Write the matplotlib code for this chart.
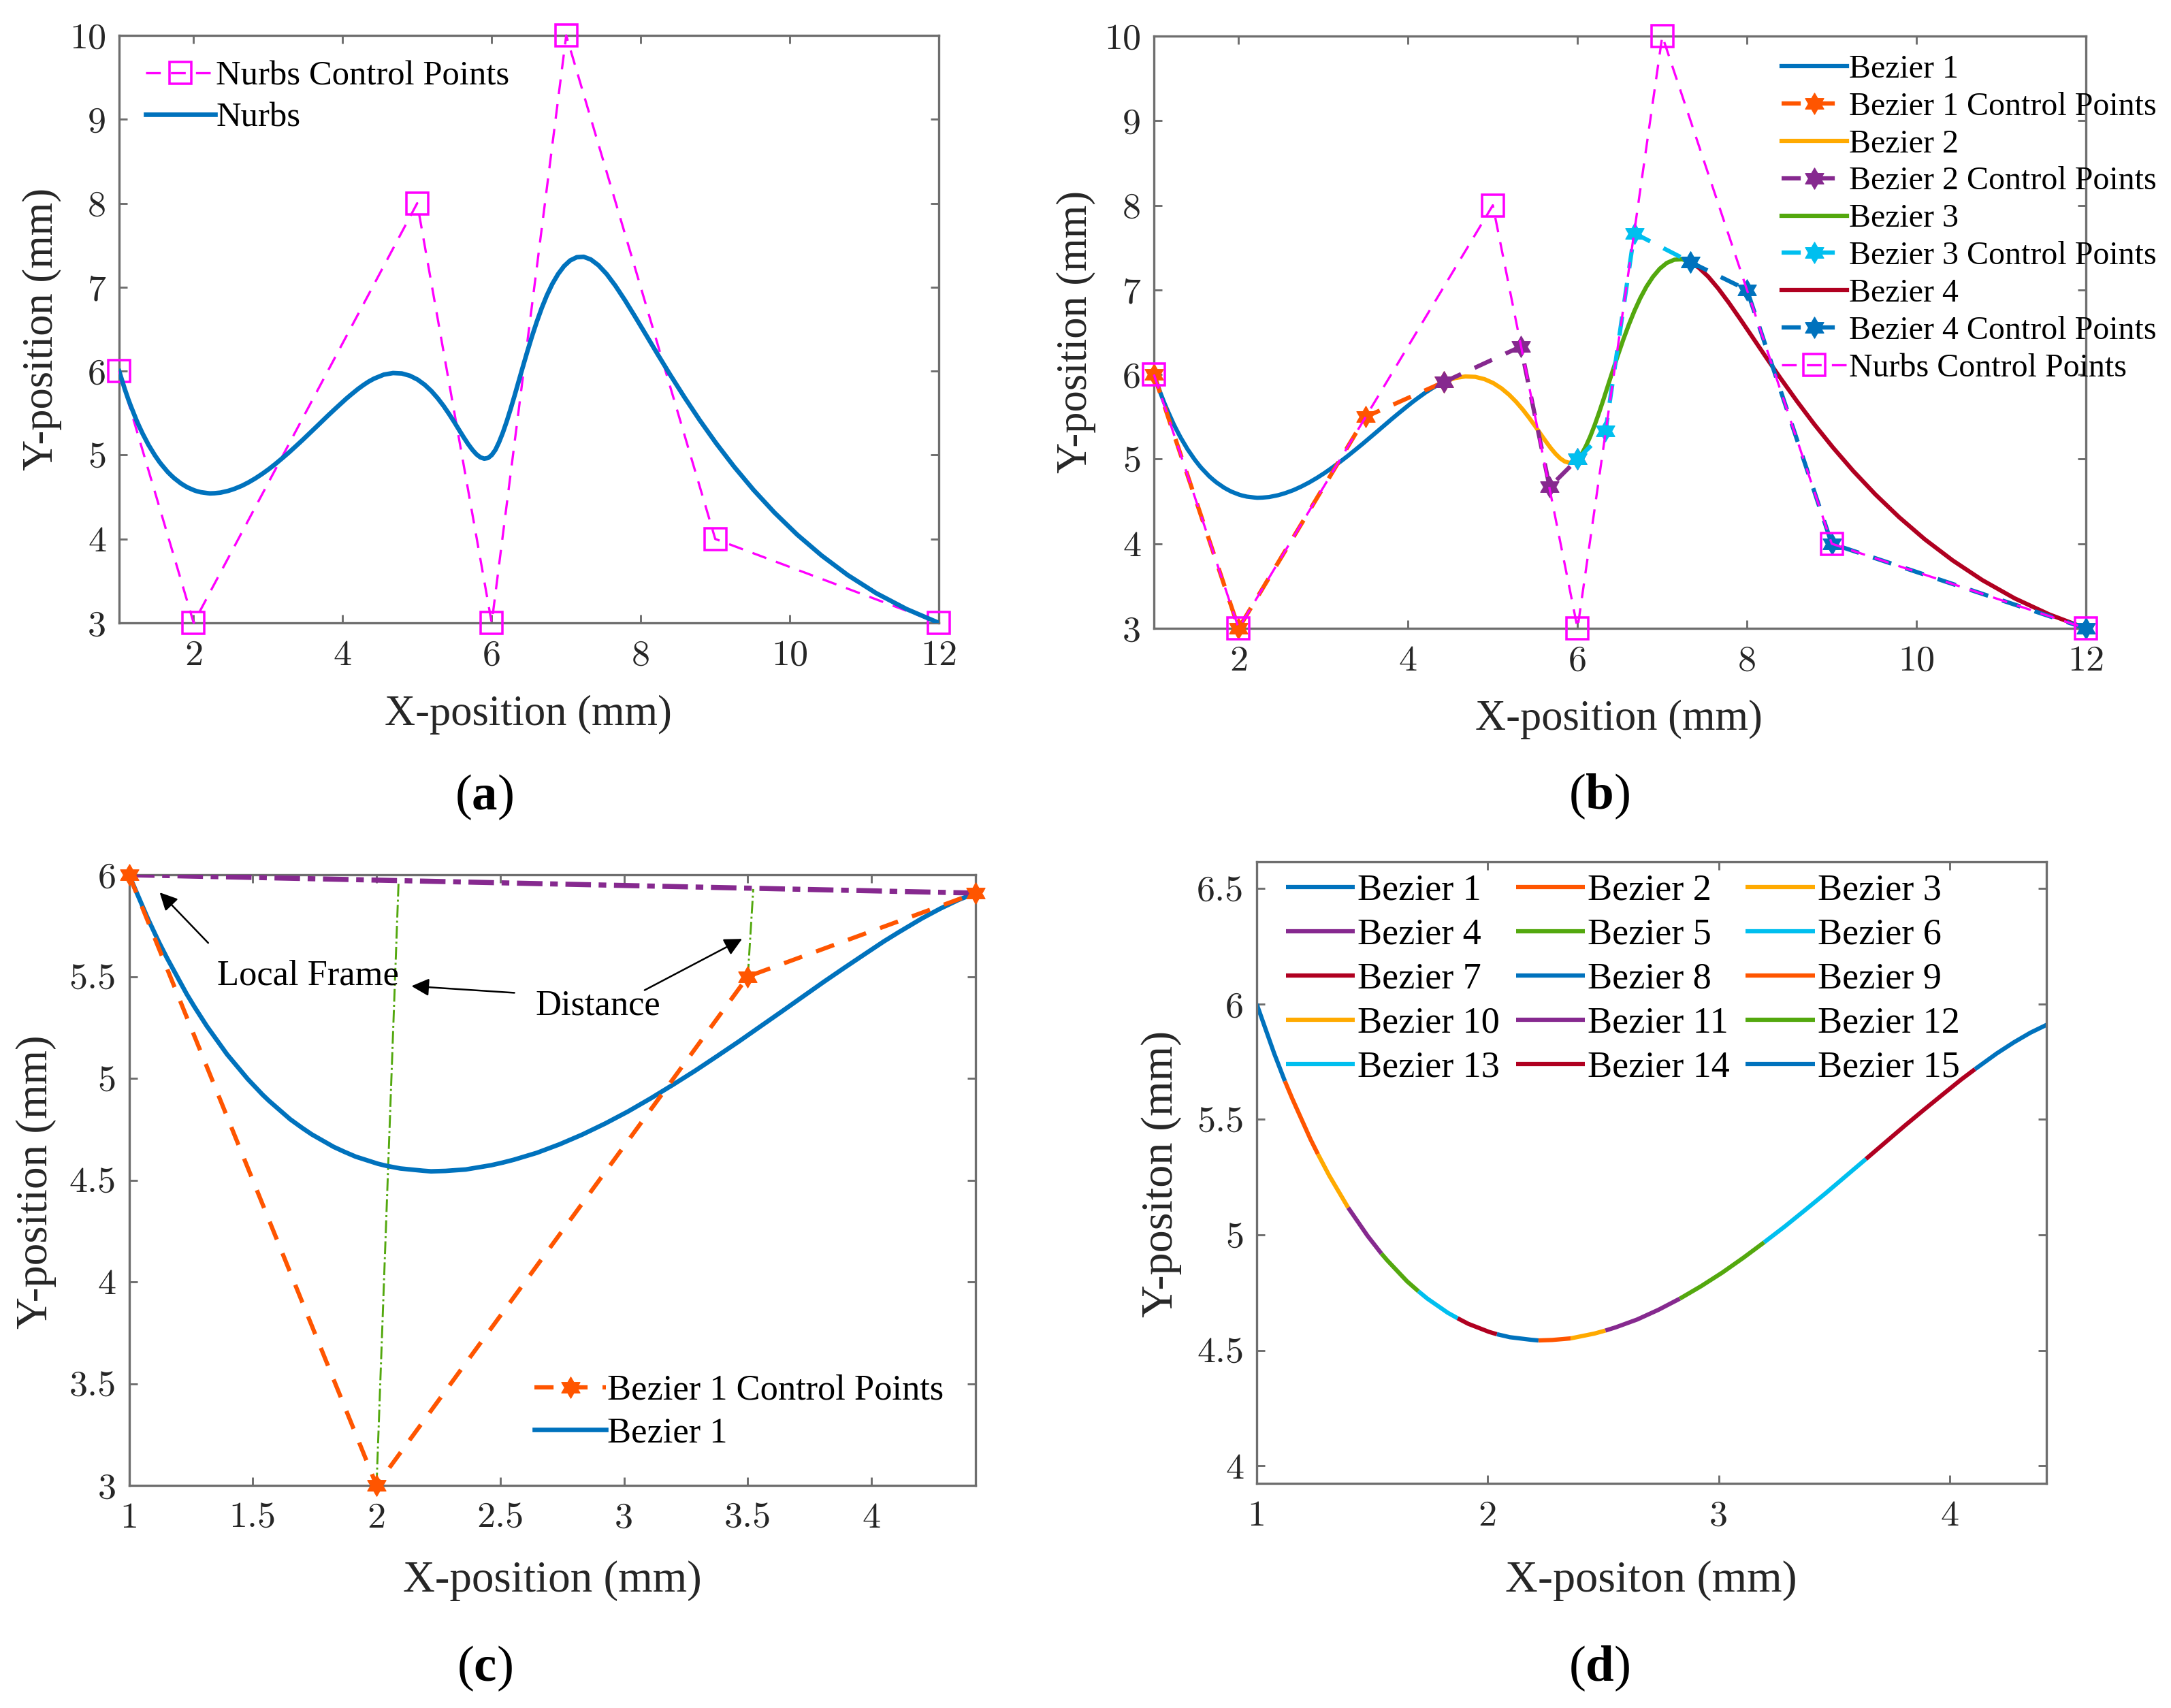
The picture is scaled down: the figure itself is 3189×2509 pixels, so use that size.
import matplotlib
matplotlib.use("Agg")
import matplotlib.pyplot as plt
import numpy as np
from matplotlib.path import Path
from matplotlib.ticker import FormatStrFormatter

W, H = 3189, 2509

# curve values
bez1_x = [1, 1.076, 1.122, 1.154, 1.233, 1.265, 1.314, 1.396, 1.480, 1.54, 1.565, 1.651, 1.70, 1.739, 1.827,
          1.87, 1.916, 2.006, 2.04, 2.096, 2.187, 2.22, 2.279, 2.36, 2.463, 2.51, 2.555, 2.648, 2.74, 2.832,
          2.924, 3.016, 3.107, 3.197, 3.287, 3.376, 3.465, 3.552, 3.638, 3.723, 3.807, 3.890, 3.971, 4.050,
          4.11, 4.204, 4.278, 4.350, 4.42]
bez1_y = [6, 5.785, 5.666, 5.590, 5.414, 5.350, 5.257, 5.118, 4.996, 4.919, 4.890, 4.799, 4.756, 4.724, 4.663,
          4.639, 4.615, 4.580, 4.570, 4.557, 4.546, 4.543, 4.545, 4.552, 4.573, 4.586, 4.600, 4.634, 4.676, 4.724,
          4.778, 4.837, 4.901, 4.968, 5.037, 5.109, 5.182, 5.256, 5.329, 5.402, 5.474, 5.543, 5.609, 5.673,
          5.718, 5.786, 5.834, 5.876, 5.91]
bez2_x = [4.42, 4.552, 4.676, 4.793, 4.902, 5.005, 5.101, 5.191, 5.275, 5.354, 5.428, 5.498, 5.563, 5.625,
          5.684, 5.741, 5.796, 5.849, 5.900, 5.951, 6]
bez2_y = [5.91, 5.958, 5.977, 5.972, 5.945, 5.899, 5.837, 5.762, 5.677, 5.585, 5.489, 5.392, 5.298, 5.210,
          5.130, 5.062, 5.008, 4.972, 4.957, 4.965, 5]
bez3_x = [6, 6.050, 6.099, 6.150, 6.202, 6.255, 6.309, 6.364, 6.421, 6.480, 6.541, 6.605, 6.671, 6.740,
          6.813, 6.890, 6.970, 7.052, 7.142, 7.234, 7.33]
bez3_y = [5, 5.062, 5.154, 5.268, 5.402, 5.552, 5.714, 5.885, 6.061, 6.239, 6.416, 6.588, 6.751, 6.902,
          7.038, 7.155, 7.250, 7.318, 7.357, 7.362, 7.33]
bez4_x = [7.33, 7.433, 7.543, 7.660, 7.785, 7.920, 8.067, 8.226, 8.399, 8.587, 8.791, 9.013, 9.253, 9.513,
          9.795, 10.099, 10.427, 10.779, 11.158, 11.566, 12]
bez4_y = [7.33, 7.261, 7.156, 7.017, 6.849, 6.655, 6.438, 6.202, 5.951, 5.688, 5.416, 5.139, 4.861, 4.585,
          4.314, 4.052, 3.803, 3.569, 3.355, 3.165, 3]

# control polygons
nurbs_cx = [1, 2, 5, 6, 7, 9, 12]
nurbs_cy = [6, 3, 8, 3, 10, 4, 3]
ctrl1_x = [1, 2, 3.5, 4.42]
ctrl1_y = [6, 3, 5.5, 5.91]
ctrl2_x = [4.42, 5.33, 5.67, 6]
ctrl2_y = [5.91, 6.33, 4.67, 5]
ctrl3_x = [6, 6.33, 6.67, 7.33]
ctrl3_y = [5, 5.33, 7.67, 7.33]
ctrl4_x = [7.33, 8, 9, 12]
ctrl4_y = [7.33, 7, 4, 3]

# panel c construction lines
frame_x = [1, 4.42]
frame_y = [6, 5.91]
dist1_x = [2, 2.089]
dist1_y = [3, 5.964]
dist2_x = [3.5, 3.522]
dist2_y = [5.5, 5.93]

# panel d: x where each of the 15 pieces ends
piece_ends = [1, 1.122, 1.265, 1.396, 1.54, 1.70, 1.87, 2.04, 2.22, 2.36, 2.51, 2.832, 3.197, 3.638, 4.11, 4.42]

BLUE = "#0072BD"
ORANGE = "#FF5500"
YELLOW = "#FFAA00"
PURPLE = "#86298F"
GREEN = "#53A80E"
CYAN = "#00BFEF"
RED = "#B00020"
MAGENTA = "#FF00FF"
CYCLE = [BLUE, ORANGE, YELLOW, PURPLE, GREEN, CYAN, RED]
GREY = "#6e6e6e"

plt.rcParams["font.family"] = ["Liberation Serif", "DejaVu Serif"]
plt.rcParams["mathtext.fontset"] = "custom"
plt.rcParams["mathtext.rm"] = "Liberation Serif"
plt.rcParams["mathtext.bf"] = "Liberation Serif:bold"

STAR = Path.unit_regular_star(6, 0.577)
DASH = (0, (4.5, 3.5))
THIN_DASH = (0, (6.5, 4.5))

fig = plt.figure(figsize=(W / 300, H / 300), dpi=300)


def make_axes(left, right, top, bottom):
    ax = fig.add_axes([left / W, 1 - bottom / H, (right - left) / W, (bottom - top) / H])
    for s in ax.spines.values():
        s.set_color(GREY)
        s.set_linewidth(0.8)
    ax.tick_params(direction="in", length=2.8, width=0.7, color=GREY, top=True, right=True,
                   labelsize=13, labelcolor="#262626", labelfontfamily="cmr10")
    ax.tick_params(axis="x", pad=6)
    ax.tick_params(axis="y", pad=4.5)
    ax.xaxis.set_major_formatter(FormatStrFormatter("%g"))
    ax.yaxis.set_major_formatter(FormatStrFormatter("%g"))
    return ax


def put_text(x, y, s, size, **kw):
    fig.text(x / W, 1 - y / H, s, fontsize=size, ha="center", va="center", color=kw.pop("color", "#262626"), **kw)


def put_legend(ax, left, top, size, spacing, pad, **kw):
    ax.legend(loc="upper left", bbox_to_anchor=(left / W, 1 - top / H), bbox_transform=fig.transFigure,
              frameon=False, borderpad=0, borderaxespad=0, handlelength=2.0, handletextpad=pad,
              labelspacing=spacing, numpoints=1, prop={"family": "Liberation Serif", "size": size}, **kw)


def plot_nurbs_ctrl(ax):
    ax.plot(nurbs_cx, nurbs_cy, color=MAGENTA, lw=0.8, ls=THIN_DASH, marker="s", ms=7.5, mfc="none",
            mew=0.85, clip_on=False, zorder=5, label="Nurbs Control Points")


def plot_ctrl(ax, x, y, color, label):
    ax.plot(x, y, color=color, lw=1.5, ls=DASH, marker=STAR, ms=7.5, mfc=color, mec=color, mew=0.3,
            clip_on=False, zorder=4, label=label)


# (a)
ax_a = make_axes(175, 1379, 52, 915)
plot_nurbs_ctrl(ax_a)
ax_a.plot(np.concatenate([bez1_x, bez2_x, bez3_x, bez4_x]), np.concatenate([bez1_y, bez2_y, bez3_y, bez4_y]),
          color=BLUE, lw=1.6, zorder=6, label="Nurbs")
ax_a.set_xlim(1, 12)
ax_a.set_ylim(3, 10)
ax_a.set_xticks([2, 4, 6, 8, 10, 12])
ax_a.set_yticks(range(3, 11))
put_legend(ax_a, 214, 89, 12.2, 0.29, 0.03)
put_text(776, 1050, "X-position (mm)", 15)
put_text(62, 483, "Y-position (mm)", 15, rotation=90)
put_text(711, 1171, r"($\mathbf{a}$)", 18, color="black")

# (b)
ax_b = make_axes(1695, 3064, 53, 923)
ax_b.plot(bez1_x, bez1_y, color=BLUE, lw=1.5, zorder=3, label="Bezier 1")
plot_ctrl(ax_b, ctrl1_x, ctrl1_y, ORANGE, "Bezier 1 Control Points")
ax_b.plot(bez2_x, bez2_y, color=YELLOW, lw=1.5, zorder=3, label="Bezier 2")
plot_ctrl(ax_b, ctrl2_x, ctrl2_y, PURPLE, "Bezier 2 Control Points")
ax_b.plot(bez3_x, bez3_y, color=GREEN, lw=1.5, zorder=3, label="Bezier 3")
plot_ctrl(ax_b, ctrl3_x, ctrl3_y, CYAN, "Bezier 3 Control Points")
ax_b.plot(bez4_x, bez4_y, color=RED, lw=1.5, zorder=3, label="Bezier 4")
plot_ctrl(ax_b, ctrl4_x, ctrl4_y, BLUE, "Bezier 4 Control Points")
plot_nurbs_ctrl(ax_b)
ax_b.set_xlim(1, 12)
ax_b.set_ylim(3, 10)
ax_b.set_xticks([2, 4, 6, 8, 10, 12])
ax_b.set_yticks(range(3, 11))
put_legend(ax_b, 2617, 80, 11.5, 0.226, 0.07)
put_text(2378, 1057, "X-position (mm)", 15)
put_text(1581, 487, "Y-position (mm)", 15, rotation=90)
put_text(2349, 1170, r"($\mathbf{b}$)", 18, color="black")

# (c)
ax_c = make_axes(189.5, 1433, 1285, 2182)
plot_ctrl(ax_c, ctrl1_x, ctrl1_y, ORANGE, "Bezier 1 Control Points")
ax_c.plot(bez1_x, bez1_y, color=BLUE, lw=1.6, zorder=3, label="Bezier 1")
ax_c.plot(frame_x, frame_y, color=PURPLE, lw=1.8, ls=(0, (5, 1.5, 1.5, 1.5)), zorder=3)
ax_c.plot(dist1_x, dist1_y, color=GREEN, lw=0.7, ls="-.", zorder=2)
ax_c.plot(dist2_x, dist2_y, color=GREEN, lw=0.7, ls="-.", zorder=2)
ax_c.set_xlim(1, 4.42)
ax_c.set_ylim(3, 6)
ax_c.set_xticks([1, 1.5, 2, 2.5, 3, 3.5, 4])
ax_c.set_yticks([3, 3.5, 4, 4.5, 5, 5.5, 6])
ax_c.text(1.355, 5.505, "Local Frame", fontsize=12.6, va="center", color="black")
ax_c.text(2.643, 5.355, "Distance", fontsize=12.6, va="center", color="black")
arrow = dict(arrowstyle="-|>", color="black", lw=0.6, mutation_scale=13, shrinkA=0, shrinkB=0)
ax_c.annotate("", xy=(1.124, 5.913), xytext=(1.32, 5.665), arrowprops=arrow)
ax_c.annotate("", xy=(2.141, 5.453), xytext=(2.557, 5.42), arrowprops=arrow)
ax_c.annotate("", xy=(3.477, 5.685), xytext=(3.083, 5.433), arrowprops=arrow)
put_legend(ax_c, 785, 2019, 12.6, 0.28, 0.035)
put_text(811, 2322, "X-position (mm)", 15.6)
put_text(53, 1736, "Y-position (mm)", 15.6, rotation=90)
put_text(712, 2451, r"($\mathbf{c}$)", 18, color="black")

# (d)
ax_d = make_axes(1846, 3005.6, 1266, 2179)
curve_x = np.array(bez1_x)
curve_y = np.array(bez1_y)
lines_d = []
for i in range(15):
    m = (curve_x >= piece_ends[i]) & (curve_x <= piece_ends[i + 1])
    lines_d += ax_d.plot(curve_x[m], curve_y[m], color=CYCLE[i % 7], lw=1.5, label="Bezier %d" % (i + 1),
                         solid_capstyle="butt")
ax_d.set_xlim(1, 4.418)
ax_d.set_ylim(3.924, 6.616)
ax_d.set_xticks([1, 2, 3, 4])
ax_d.set_yticks([4, 4.5, 5, 5.5, 6, 6.5])
# legend reads row by row in the original
order = [0, 3, 6, 9, 12, 1, 4, 7, 10, 13, 2, 5, 8, 11, 14]
ax_d.legend([lines_d[i] for i in order], [lines_d[i].get_label() for i in order], loc="upper left",
            bbox_to_anchor=(1889 / W, 1 - 1283 / H), bbox_transform=fig.transFigure, frameon=False, borderpad=0,
            borderaxespad=0, handlelength=1.87, handletextpad=0.07, labelspacing=0.27, ncols=3, columnspacing=0.44,
            prop={"family": "Liberation Serif", "size": 13})
put_text(2425, 2322, "X-positon (mm)", 15.9)
put_text(1706, 1724, "Y-positon (mm)", 15.9, rotation=90)
put_text(2349, 2451, r"($\mathbf{d}$)", 18, color="black")

fig.savefig("out.png", dpi=300)
plt.close(fig)
